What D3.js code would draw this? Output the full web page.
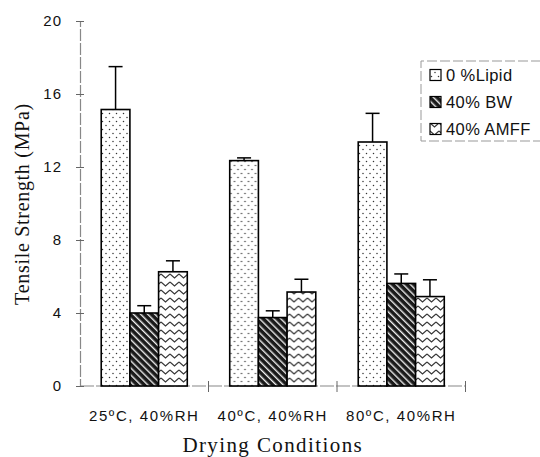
<!DOCTYPE html>
<html>
<head>
<meta charset="utf-8">
<script src="https://cdn.jsdelivr.net/npm/d3@7"></script>
<style>
  body { margin: 0; background: #fff; }
  svg { display: block; }
  .tick text { font-family: "Liberation Sans", Arial, sans-serif; font-size: 15px; fill: #111; letter-spacing: 1px; }
</style>
</head>
<body>
<div id="chart"></div>
<script>
const categories = ["25ºC, 40%RH", "40ºC, 40%RH", "80ºC, 40%RH"];
const series = ["0 %Lipid", "40% BW", "40% AMFF"];
const lipidMean = [15.15, 12.35, 13.37];
const lipidErr = [2.35, 0.15, 1.57];
const bwMean = [4.0, 3.75, 5.62];
const bwErr = [0.4, 0.37, 0.52];
const amffMean = [6.26, 5.15, 4.9];
const amffErr = [0.6, 0.7, 0.92];
const yTicks = [0, 4, 8, 12, 16, 20];

const W = 540, H = 457;
const plot = { left: 80, right: 465.5, top: 21, bottom: 386 };

const svg = d3.select("#chart").append("svg")
    .attr("width", W)
    .attr("height", H);

// fill patterns
const defs = svg.append("defs");

const pDots = defs.append("pattern")
    .attr("id", "dots")
    .attr("patternUnits", "userSpaceOnUse")
    .attr("width", 7).attr("height", 8);
pDots.append("rect").attr("width", 7).attr("height", 8).attr("fill", "#fff");
pDots.append("circle").attr("cx", 1.5).attr("cy", 1.5).attr("r", 0.75).attr("fill", "#333");
pDots.append("circle").attr("cx", 5).attr("cy", 5.5).attr("r", 0.75).attr("fill", "#333");

const pHatch = defs.append("pattern")
    .attr("id", "hatch")
    .attr("patternUnits", "userSpaceOnUse")
    .attr("width", 5).attr("height", 5)
    .attr("patternTransform", "rotate(-45)");
pHatch.append("rect").attr("width", 5).attr("height", 5).attr("fill", "#1a1a1a");
pHatch.append("rect").attr("x", 0).attr("y", 0).attr("width", 1.4).attr("height", 5).attr("fill", "#eee");

const pZig = defs.append("pattern")
    .attr("id", "zigzag")
    .attr("patternUnits", "userSpaceOnUse")
    .attr("width", 9).attr("height", 8);
pZig.append("rect").attr("width", 9).attr("height", 8).attr("fill", "#fff");
pZig.append("path")
    .attr("d", "M0,2 L4.5,6 L9,2")
    .attr("fill", "none")
    .attr("stroke", "#333")
    .attr("stroke-width", 1.1);

const fills = ["url(#dots)", "url(#hatch)", "url(#zigzag)"];

const x0 = d3.scaleBand()
    .domain(categories)
    .range([plot.left, plot.right]);

const x1 = d3.scaleBand()
    .domain(series)
    .range([0, x0.bandwidth()])
    .paddingOuter(0.74);

const y = d3.scaleLinear()
    .domain([0, 20])
    .range([plot.bottom, plot.top]);

const data = [];
categories.forEach((c, i) => {
    data.push({ cat: c, s: series[0], v: lipidMean[i], e: lipidErr[i], f: fills[0] });
    data.push({ cat: c, s: series[1], v: bwMean[i], e: bwErr[i], f: fills[1] });
    data.push({ cat: c, s: series[2], v: amffMean[i], e: amffErr[i], f: fills[2] });
});

// x axis
const xAxis = svg.append("g")
    .attr("transform", `translate(0,${plot.bottom})`);
xAxis.append("line")
    .attr("x1", plot.left).attr("x2", plot.right)
    .attr("stroke", "#888").attr("stroke-width", 1.2)
    .attr("stroke-dasharray", "14,2");
xAxis.selectAll(".sep")
    .data([plot.left + x0.bandwidth(), plot.left + 2 * x0.bandwidth(), plot.right])
    .enter().append("line")
    .attr("x1", d => d).attr("x2", d => d)
    .attr("y1", -5).attr("y2", 6)
    .attr("stroke", "#666").attr("stroke-width", 1);
xAxis.selectAll(".cat")
    .data(categories)
    .enter().append("text")
    .attr("x", d => x0(d) + x0.bandwidth() / 2)
    .attr("y", 35)
    .attr("text-anchor", "middle")
    .style("font-family", "'Liberation Sans', Arial, sans-serif")
    .style("font-size", "15px")
    .style("letter-spacing", "1.6px")
    .style("fill", "#111")
    .text(d => d);

// y axis
const yAxis = svg.append("g")
    .attr("transform", `translate(${plot.left},0)`)
    .call(d3.axisLeft(y).tickValues(yTicks).tickSize(4).tickPadding(14));
yAxis.select(".domain")
    .attr("stroke", "#888")
    .attr("stroke-width", 1.2)
    .attr("stroke-dasharray", "12,2");
yAxis.selectAll(".tick line")
    .attr("x1", -4).attr("x2", 4)
    .attr("stroke", "#666");

// bars
const bars = svg.selectAll(".bar")
    .data(data)
    .enter().append("g")
    .attr("transform", d => `translate(${x0(d.cat)},0)`);

bars.append("line")
    .attr("x1", d => x1(d.s) + x1.bandwidth() / 2)
    .attr("x2", d => x1(d.s) + x1.bandwidth() / 2)
    .attr("y1", d => y(d.v))
    .attr("y2", d => y(d.v + d.e))
    .attr("stroke", "#000").attr("stroke-width", 1.5);

bars.append("line")
    .attr("x1", d => x1(d.s) + x1.bandwidth() / 2 - 7)
    .attr("x2", d => x1(d.s) + x1.bandwidth() / 2 + 7)
    .attr("y1", d => y(d.v + d.e))
    .attr("y2", d => y(d.v + d.e))
    .attr("stroke", "#000").attr("stroke-width", 1.5);

bars.append("rect")
    .attr("x", d => x1(d.s))
    .attr("width", x1.bandwidth())
    .attr("y", d => y(d.v))
    .attr("height", d => y(0) - y(d.v))
    .attr("fill", d => d.f)
    .attr("stroke", "#000")
    .attr("stroke-width", 1.6);

// axis titles
svg.append("text")
    .attr("transform", "translate(29,204) rotate(-90)")
    .attr("text-anchor", "middle")
    .style("font-family", "'Liberation Serif', 'Times New Roman', serif")
    .style("font-size", "20px")
    .style("letter-spacing", "0.7px")
    .style("fill", "#111")
    .text("Tensile Strength (MPa)");

svg.append("text")
    .attr("x", (plot.left + plot.right) / 2)
    .attr("y", 452)
    .attr("text-anchor", "middle")
    .style("font-family", "'Liberation Serif', 'Times New Roman', serif")
    .style("font-size", "21px")
    .style("letter-spacing", "1.4px")
    .style("fill", "#111")
    .text("Drying Conditions");

// legend
const legend = svg.append("g").attr("transform", "translate(421,61)");
legend.append("path")
    .attr("d", "M120,0 H0 V80 H120")
    .attr("fill", "none")
    .attr("stroke", "#999")
    .attr("stroke-width", 1)
    .attr("stroke-dasharray", "10,3");
const item = legend.selectAll(".item")
    .data(series)
    .enter().append("g")
    .attr("transform", (d, i) => `translate(9,${14 + i * 27})`);
item.append("rect")
    .attr("x", 0).attr("y", -5.5)
    .attr("width", 11).attr("height", 11)
    .attr("fill", (d, i) => fills[i])
    .attr("stroke", "#000").attr("stroke-width", 1.2);
item.append("text")
    .attr("x", 16).attr("y", 6)
    .style("font-family", "'Liberation Sans', Arial, sans-serif")
    .style("font-size", "16.5px")
    .style("letter-spacing", "0.4px")
    .style("fill", "#111")
    .text(d => d);
</script>
</body>
</html>
